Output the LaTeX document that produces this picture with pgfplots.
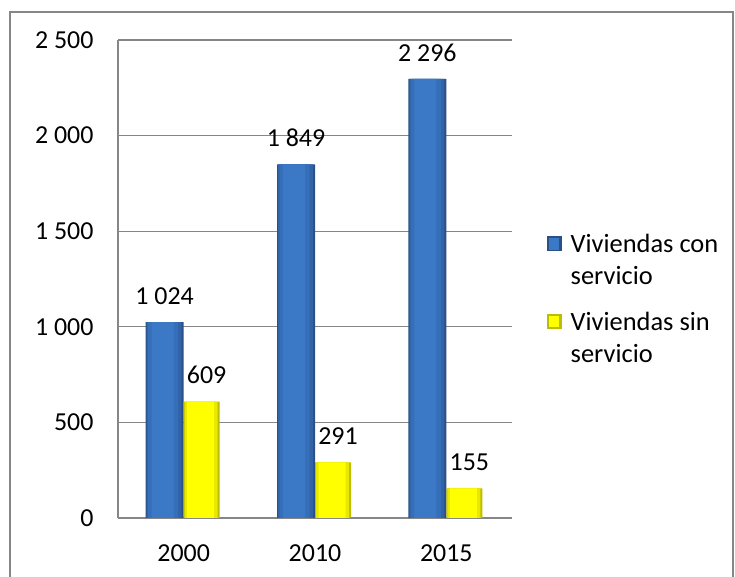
\documentclass[border=0pt]{standalone}
\usepackage{pgfplots}
\pgfplotsset{compat=1.18}
\usepackage{fontspec}
\setmainfont{Carlito}
\definecolor{gridc}{HTML}{868686}
\definecolor{bA}{HTML}{2A5088}
\definecolor{bB}{HTML}{3163A6}
\definecolor{bC}{HTML}{366FB9}
\definecolor{bD}{HTML}{3B79C7}
\definecolor{yA}{HTML}{BDBD00}
\definecolor{yB}{HTML}{E8E800}
\definecolor{yC}{HTML}{FFFF00}
\pgfplotstableread{
x con sin
0 1024 609
1 1849 291
2 2296 155
}\datatab
\begin{document}
\begin{tikzpicture}[x=1bp,y=1bp]
\useasboundingbox (0,0) rectangle (735,577);
\draw[gridc, line width=1.2bp] (10,-10) -- (10,565) -- (733,565) -- (733,-10);
\begin{axis}[
  at={(118bp,59bp)}, anchor=south west,
  width=394bp, height=478bp, scale only axis,
  xmin=-0.5, xmax=2.5, ymin=0, ymax=2500,
  ytick={0,500,1000,1500,2000,2500},
  xtick={0,1,2}, xticklabels={2000,2010,2015},
  ymajorgrids, grid style={gridc, line width=1.2bp},
  axis x line*=bottom, axis y line*=left,
  axis line style={gridc, line width=1.2bp, -},
  major tick length=0pt,
  font=\fontsize{26}{31}\selectfont,
  /pgf/number format/assume math mode=true,
  /pgf/number format/1000 sep={\ },
  yticklabel style={xshift=-21bp},
  xticklabel style={yshift=-23bp},
  every node near coord/.append style={font=\fontsize{26}{31}\selectfont, yshift=14bp, black},
  legend cell align=left,
  legend style={draw=none, fill=none, at={(1.080,0.458)}, anchor=west,
    font=\fontsize{26.5}{32.5}\selectfont, row sep=21.5bp,
    nodes={align=left}},
]
% blue series (layers for a bevelled look)
\addplot[ybar, bar width=38bp, bar shift=-19bp, fill=bA, draw=none, forget plot] table[x=x,y=con]{\datatab};
\addplot[ybar, bar width=35bp, bar shift=-19.5bp, fill=bB, draw=none, forget plot] table[x=x,y=con]{\datatab};
\addplot[ybar, bar width=30bp, bar shift=-20.5bp, fill=bC, draw=none, forget plot] table[x=x,y=con]{\datatab};
\addplot[ybar, bar width=22bp, bar shift=-21bp, fill=bD, draw=none, forget plot] table[x=x,y=con]{\datatab};
\addplot[ybar, bar width=38bp, bar shift=-19bp, fill=none, draw=none, nodes near coords,
  every node near coord/.append style={xshift=-19bp},
  legend image code/.code={\fill[bA] (0bp,8.75bp) rectangle (15bp,23.75bp);
    \fill[bD] (2bp,10.5bp) rectangle (12bp,22bp);
    \path (22bp,16bp);}]
  table[x=x,y=con]{\datatab};
\addlegendentry{Viviendas con\\servicio}
% yellow series
\addplot[ybar, bar width=36bp, bar shift=18bp, fill=yA, draw=none, forget plot] table[x=x,y=sin]{\datatab};
\addplot[ybar, bar width=33bp, bar shift=17.5bp, fill=yB, draw=none, forget plot] table[x=x,y=sin]{\datatab};
\addplot[ybar, bar width=27bp, bar shift=17bp, fill=yC, draw=none, forget plot] table[x=x,y=sin]{\datatab};
\addplot[ybar, bar width=36bp, bar shift=18bp, fill=none, draw=none, nodes near coords,
  every node near coord/.append style={xshift=23bp},
  legend image code/.code={\fill[yA] (0bp,8.75bp) rectangle (15bp,23.75bp);
    \fill[yC] (2bp,10.5bp) rectangle (12bp,22bp);
    \path (22bp,16bp);}]
  table[x=x,y=sin]{\datatab};
\addlegendentry{Viviendas sin\\servicio}
\end{axis}
\end{tikzpicture}
\end{document}
